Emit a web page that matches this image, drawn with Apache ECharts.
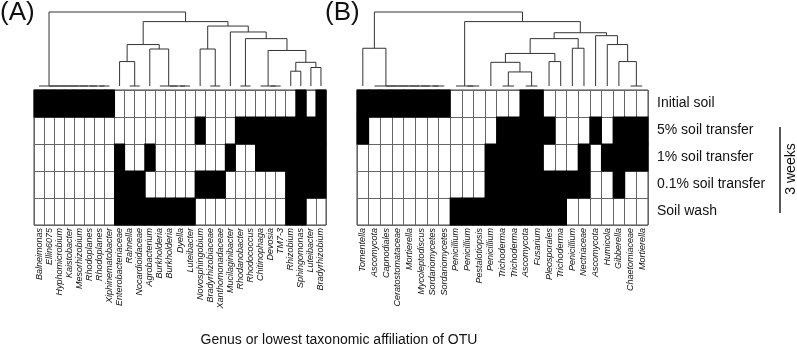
<!DOCTYPE html>
<html>
<head>
<meta charset="utf-8">
<script src="https://cdn.jsdelivr.net/npm/echarts@6/dist/echarts.min.js"></script>
<style>
  html, body { margin: 0; background: #fff; }
  #chart { width: 797px; height: 350px; }
</style>
</head>
<body>
<div id="chart"></div>
<script>
const FONT = "'Liberation Sans', Arial, Helvetica, sans-serif"

const rowNames = ['Initial soil', '5% soil transfer', '1% soil transfer', '0.1% soil transfer', 'Soil wash']

// (A) bacteria
const bacteria = ['Balneimonas', 'Ellin6075', 'Hyphomicrobium', 'Kaistobacter', 'Mesorhizobium', 'Rhodoplanes',
  'Rhodoplanes', 'Xiphinematobacter', 'Enterobacteriaceae', 'Rahnella', 'Nocardioidaceae', 'Agrobacterium',
  'Burkholderia', 'Burkholderia', 'Dyella', 'Luteibacter', 'Novosphingobium', 'Bradyrhizobiaceae',
  'Xanthomonadaceae', 'Mucilaginibacter', 'Rhodanobacter', 'Rhodococcus', 'Chitinophaga', 'Devosia',
  'TM7-3', 'Rhizobium', 'Sphingomonas', 'Luteibacter', 'Bradyrhizobium']
const bacInitial = [1,1,1,1,1,1,1,1,0,0, 0,0,0,0,0,0,0,0,0,0, 0,0,0,0,0,0,1,0,1]
const bac5       = [0,0,0,0,0,0,0,0,0,0, 0,0,0,0,0,0,1,0,0,0, 1,1,1,1,1,1,1,1,1]
const bac1       = [0,0,0,0,0,0,0,0,1,0, 0,1,0,0,0,0,0,0,0,1, 0,0,1,1,1,1,1,1,1]
const bac01      = [0,0,0,0,0,0,0,0,1,1, 1,0,0,0,0,0,1,1,1,0, 0,0,0,0,0,1,1,1,1]
const bacWash    = [0,0,0,0,0,0,0,0,1,1, 1,1,1,1,1,1,0,0,0,0, 0,0,0,0,0,1,1,0,0]

// (B) fungi
const fungi = ['Tomentella', 'Ascomycota', 'Capnodiales', 'Ceratostomataceae', 'Mortierella', 'Mycoleptodiscus',
  'Sordariomycetes', 'Sordariomycetes', 'Penicillium', 'Penicillium', 'Pestalotiopsis', 'Penicillium',
  'Trichoderma', 'Trichoderma', 'Ascomycota', 'Fusarium', 'Pleosporales', 'Trichoderma', 'Penicillium',
  'Nectriaceae', 'Ascomycota', 'Humicola', 'Gibberella', 'Chaetomiaceae', 'Mortierella']
const funInitial = [1,1,1,1,1,1,1,1,0,0, 0,0,0,0,1,1,0,0,0,0, 0,0,0,0,0]
const fun5       = [1,0,0,0,0,0,0,0,0,0, 0,0,1,1,1,1,1,0,0,0, 1,0,1,1,1]
const fun1       = [0,0,0,0,0,0,0,0,0,0, 0,1,1,1,1,1,0,0,0,1, 0,1,1,1,1]
const fun01      = [0,0,0,0,0,0,0,0,0,0, 0,1,1,1,1,1,1,1,1,1, 0,0,1,0,0]
const funWash    = [0,0,0,0,0,0,0,0,1,1, 1,1,1,1,1,1,1,1,0,0, 0,0,0,0,0]

// dendrograms: [height, left, right], leaves are column indices
// identical columns (distance 0) are chained with tie(a, b)
function tie(a, b) {
  return a === b ? a : [0, a, tie(a + 1, b)]
}
const treeA = [1.0, tie(0, 7),
  [0.87,
    [0.56, [0.33, 8, tie(9, 10)], [0.5, 11, tie(12, 15)]],
    [0.81, [0.5, 16, tie(17, 18)],
      [0.73, 19, [0.64, tie(20, 21), [0.48, tie(22, 24), [0.32, [0.2, 25, 26], [0.25, 27, 28]]]]]]]]
const treeB = [1.0, [0.51, 0, tie(1, 7)],
  [0.87, tie(8, 10),
    [0.72,
      [0.64, [0.44, [0.32, 11, [0.19, tie(12, 13), tie(14, 15)]], [0.33, 16, 17]], [0.51, 18, 19]],
      [0.68, 20, [0.56, 21, [0.33, 22, tie(23, 24)]]]]]]

function links(node, out) {
  if (typeof node === 'number') return { x: node, h: 0 }
  const [h, l, r] = node
  const a = links(l, out)
  const b = links(r, out)
  out.push([a.x, a.h, b.x, b.h, h])
  return { x: (a.x + b.x) / 2, h }
}

function cells(rows) {
  const out = []
  rows.forEach((row, r) => row.forEach((v, c) => { if (v) out.push([c, r]) }))
  return out
}

const linksA = []
links(treeA, linksA)
const linksB = []
links(treeB, linksB)

const cellsA = cells([bacInitial, bac5, bac1, bac01, bacWash])
const cellsB = cells([funInitial, fun5, fun1, fun01, funWash])

function renderCell(params, api) {
  const p = api.coord([api.value(0), api.value(1)])
  const s = api.size([1, 1])
  return {
    type: 'rect',
    shape: { x: p[0] - s[0] / 2 - 0.5, y: p[1] - s[1] / 2 - 0.5, width: s[0] + 1, height: s[1] + 1 },
    style: { fill: '#000' },
  }
}

function renderLink(params, api) {
  const pts = [
    api.coord([api.value(0), api.value(1)]),
    api.coord([api.value(0), api.value(4)]),
    api.coord([api.value(2), api.value(4)]),
    api.coord([api.value(2), api.value(3)]),
  ]
  return {
    type: 'polyline',
    shape: { points: pts },
    style: { stroke: '#333', lineWidth: 1, fill: null },
  }
}

const gridLine = { show: true, interval: 0, lineStyle: { color: '#666', width: 1 } }

function catX(gridIndex, names) {
  return {
    type: 'category', gridIndex, data: names,
    axisLine: { show: false }, axisTick: { show: false },
    splitLine: gridLine,
    axisLabel: {
      interval: 0, rotate: 90, margin: 3, fontSize: 9, fontStyle: 'italic',
      color: '#111', fontFamily: FONT,
    },
  }
}

const chart = echarts.init(document.getElementById('chart'))
chart.setOption({
  animation: false,
  textStyle: { fontFamily: FONT },
  grid: [
    { left: 34, top: 90, width: 292, height: 135, show: true, borderColor: '#444', borderWidth: 1, backgroundColor: '#fff' },
    { left: 357, top: 90, width: 291, height: 135, show: true, borderColor: '#444', borderWidth: 1, backgroundColor: '#fff' },
    { left: 34, top: 12, width: 292, height: 74 },
    { left: 357, top: 12, width: 291, height: 74 },
  ],
  xAxis: [
    catX(0, bacteria),
    catX(1, fungi),
    { type: 'value', gridIndex: 2, min: -0.5, max: bacteria.length - 0.5, show: false },
    { type: 'value', gridIndex: 3, min: -0.5, max: fungi.length - 0.5, show: false },
  ],
  yAxis: [
    {
      type: 'category', gridIndex: 0, data: rowNames, inverse: true,
      axisLine: { show: false }, axisTick: { show: false }, axisLabel: { show: false },
      splitLine: gridLine,
    },
    {
      type: 'category', gridIndex: 1, data: rowNames, inverse: true, position: 'right',
      axisLine: { show: false }, axisTick: { show: false },
      axisLabel: { margin: 9, fontSize: 14, color: '#111', fontFamily: FONT },
      splitLine: gridLine,
    },
    { type: 'value', gridIndex: 2, min: 0, max: 1, show: false },
    { type: 'value', gridIndex: 3, min: 0, max: 1, show: false },
  ],
  series: [
    { type: 'custom', xAxisIndex: 0, yAxisIndex: 0, data: cellsA, renderItem: renderCell, encode: { x: 0, y: 1 } },
    { type: 'custom', xAxisIndex: 1, yAxisIndex: 1, data: cellsB, renderItem: renderCell, encode: { x: 0, y: 1 } },
    { type: 'custom', xAxisIndex: 2, yAxisIndex: 2, data: linksA, renderItem: renderLink, encode: { x: [0, 2], y: [1, 3, 4] } },
    { type: 'custom', xAxisIndex: 3, yAxisIndex: 3, data: linksB, renderItem: renderLink, encode: { x: [0, 2], y: [1, 3, 4] } },
  ],
  graphic: [
    { type: 'text', left: 0, top: 0, style: { text: '(A)', fontSize: 26, fill: '#111', fontFamily: FONT } },
    { type: 'text', left: 325, top: 0, style: { text: '(B)', fontSize: 26, fill: '#111', fontFamily: FONT } },
    {
      type: 'text', x: 339, y: 340,
      style: { text: 'Genus or lowest taxonomic affiliation of OTU', fontSize: 14, fill: '#111', fontFamily: FONT, align: 'center', verticalAlign: 'middle' },
    },
    { type: 'line', shape: { x1: 780, y1: 127, x2: 780, y2: 213 }, style: { stroke: '#222', lineWidth: 1.5 } },
    {
      type: 'text', x: 791, y: 169, rotation: Math.PI / 2,
      style: { text: '3 weeks', fontSize: 14, fill: '#111', fontFamily: FONT, align: 'center', verticalAlign: 'middle' },
    },
  ],
})
</script>
</body>
</html>
